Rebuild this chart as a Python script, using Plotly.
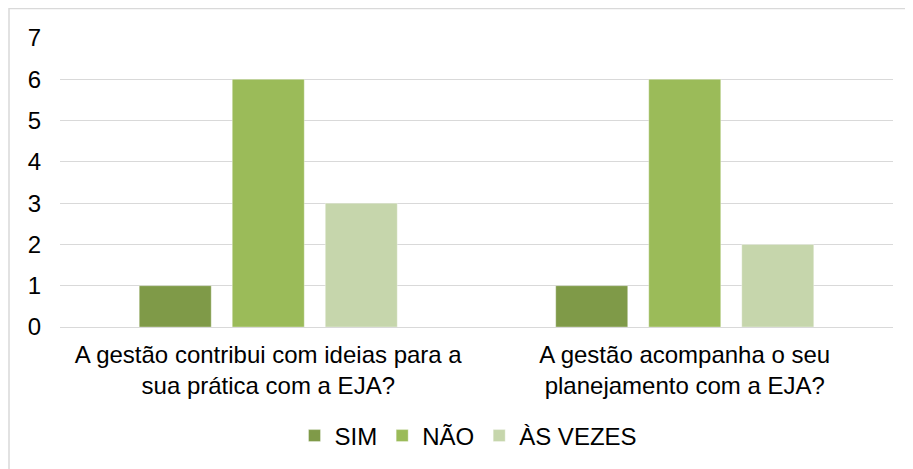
import plotly.graph_objects as go

categories = ["A gestão contribui com ideias para a<br>sua prática com a EJA?",
              "A gestão acompanha o seu<br>planejamento com a EJA?"]
series_names = ["SIM", "NÃO", "ÀS VEZES"]
sim = [1, 1]
nao = [6, 6]
as_vezes = [3, 2]
colors = ["#7F9A48", "#9BBB59", "#C6D6AC"]
y_ticks = [0, 1, 2, 3, 4, 5, 6, 7]

fig = go.Figure()
for name, vals, col in zip(series_names, [sim, nao, as_vezes], colors):
    fig.add_trace(go.Bar(name=name, x=categories, y=vals, marker_color=col,
                         marker_line=dict(color="rgba(255,255,255,0.35)", width=1)))

# page body has an 8px margin; figure sits at (8, 8)
OFF = 8
W, H = 913 - OFF, 469 - OFF
L, R, T, B = 60 - OFF, 20, 38 - OFF, 141
pw, ph = W - L - R, H - T - B

fig.update_layout(
    width=W, height=H,
    margin=dict(l=L, r=R, t=T, b=B),
    paper_bgcolor="white", plot_bgcolor="white",
    barmode="group", bargap=0.33, bargroupgap=0.226,
    font=dict(family="Liberation Sans, Arial, sans-serif", size=24, color="#000000"),
    showlegend=True,
    legend=dict(orientation="h", x=0.5 - 8 / pw, xanchor="center", y=-(436 - 328) / ph,
                yanchor="middle", font=dict(size=24), itemwidth=30,
                bgcolor="rgba(0,0,0,0)"),
    xaxis=dict(showgrid=False, showline=False, ticks="", tickfont=dict(size=24),
               ticklabelstandoff=11),
    yaxis=dict(range=[0, 7], tickvals=y_ticks, showgrid=True, gridcolor="#D9D9D9",
               gridwidth=1, zeroline=True, zerolinecolor="#D9D9D9", zerolinewidth=1,
               showline=False, ticks="", ticklabelstandoff=18, tickfont=dict(size=24)),
    shapes=[dict(type="rect", xref="paper", yref="paper",
                 x0=(9 - 60) / pw, x1=1.2, y0=-1.0, y1=(328 - 8.5) / ph,
                 line=dict(color="#D9D9D9", width=1.5), layer="below")],
)

fig.write_html("out.html")
